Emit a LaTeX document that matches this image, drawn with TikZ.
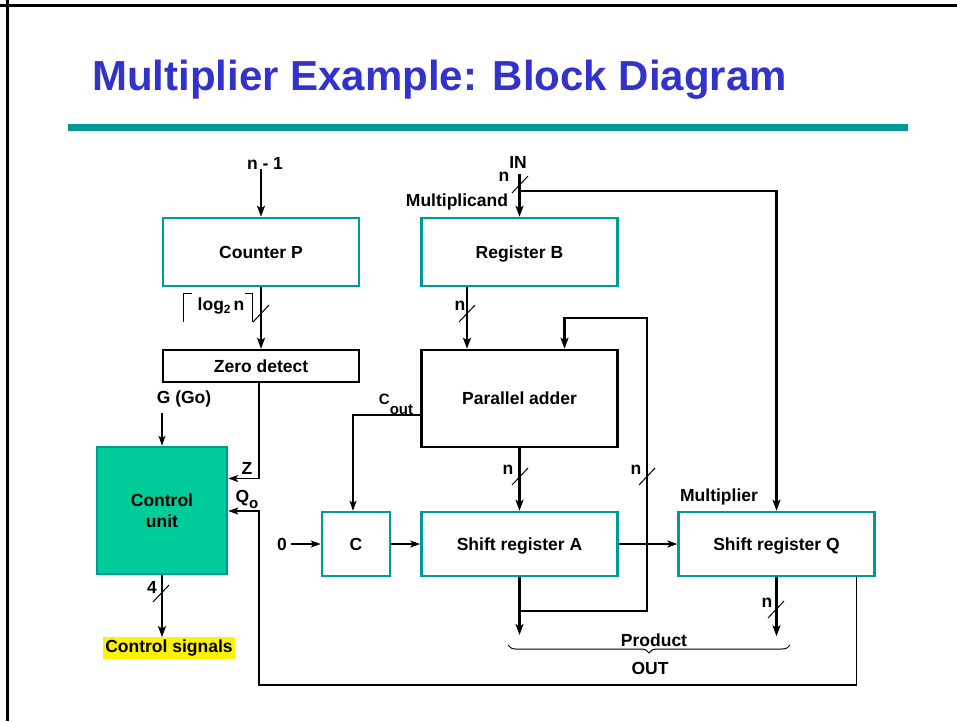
\documentclass[tikz,border=0pt]{standalone}
\usepackage{fontspec}
\setmainfont{Liberation Sans}
\usetikzlibrary{arrows.meta,decorations.pathreplacing,calc}
\definecolor{slideteal}{HTML}{009999}
\definecolor{titleblue}{HTML}{3333CC}
\definecolor{ctrlgreen}{HTML}{00CC99}
\begin{document}
\begin{tikzpicture}[x=1pt,y=-1pt,
  every node/.style={font=\fontsize{17.5}{21}\selectfont\bfseries, inner sep=0pt},
  boxtext/.style={text height=12.5pt, text depth=0pt},
  reg/.style={draw=slideteal, line width=2.5pt, minimum width=196pt, minimum height=64pt, boxtext},
  logic/.style={draw=black, line width=2.5pt, minimum width=196pt, boxtext},
  bus/.style={line width=2.2pt, -{Stealth[length=11pt,width=8pt,inset=2.5pt]}},
  busline/.style={line width=2.2pt},
  wire/.style={line width=1.2pt, -{Stealth[length=10pt,width=7pt,inset=2.5pt]}},
  busmark/.pic={\draw[line width=1pt] (-8,9) -- (8,-8);},
]
\useasboundingbox (0,0) rectangle (957,721);

% slide frame, title and rule
\draw[line width=3.5pt] (0,5.5) -- (957,5.5);
\draw[line width=3pt] (7,0) -- (7,721);
\node[anchor=base west, text=titleblue, font=\fontsize{42}{50}\selectfont\bfseries] (title) at (92,90) {Multiplier Example: Block Diagram};
\fill[slideteal] (68,124) rectangle (908,131);

% blocks
\node[reg, minimum height=68pt] (cp) at (261,252) {Counter P};
\node[logic, minimum height=32pt] (zd) at (261,366) {Zero detect};
\node[reg, minimum height=68pt] (rb) at (519.5,252) {Register B};
\node[logic, minimum height=97pt] (pa) at (519.5,398.5) {Parallel adder};
\node[draw=slideteal, line width=2.5pt, fill=ctrlgreen, minimum width=130pt, minimum height=127pt, align=center] (cu) at (162,510.5) {Control\\unit};
\node[reg, minimum width=68pt] (cc) at (356,544) {C};
\node[reg] (sa) at (519.5,544) {Shift register A};
\node[reg] (sq) at (776.5,544) {Shift register Q};
\node[fill=yellow, inner xsep=2pt, inner ysep=2.5pt] (cs) at (169,648) {Control signals};

% counter path
\node (nm1) at (265,163) {n - 1};
\draw[bus] (cp.north |- nm1.south) -- (cp.north);
\draw[bus] (cp.south) -- (zd.north);
\pic at (261,313) {busmark};
\node (lg) at (221,306) {log\raisebox{-3pt}{\fontsize{12}{12}\selectfont 2}\,n};
\draw[line width=1pt] (183,322) -- (183,293) -- (192,293);
\draw[line width=1pt] (245,293) -- (252,293) -- (252,322);

% control unit inputs
\coordinate (zin) at ($(cu.east)+(0,-32)$);
\draw[wire] ($(zd.south)+(-2,0)$) |- (zin);
\node (zlab) at (247,468) {Z};
\node (go) at (184,399) {G (Go)};
\draw[wire] ($(cu.north)+(0,-33)$) -- (cu.north);
\node (qlab) at (247,499) {Q\raisebox{-6pt}{\fontsize{15}{15}\selectfont o}};
\coordinate (qin) at ($(cu.east)+(0,0.5)$);
\coordinate (qturn) at (259,685);
\draw[wire] ($(sq.south east)+(-19,0)$) |- (qturn) |- (qin);

% control signals
\draw[bus] (cu.south) -- (cu.south |- cs.north);
\pic at (161,593) {busmark};
\node (four) at (152,587) {4};

% multiplicand input
\node (in) at (518,162) {IN};
\coordinate (intop) at (519.5,174);
\coordinate (insplit) at (519.5,191);
\draw[bus] (intop) -- (rb.north);
\draw[bus] (insplit) -| (sq.north);
\pic at (520,184) {busmark};
\node (nin) at (504,177) {n};
\node (mcand) at (457,202) {Multiplicand};

% register B to adder
\draw[bus] ($(rb.south)+(-52.5,0)$) -- ($(pa.north)+(-52.5,0)$);
\pic at (467,313) {busmark};
\node (nb) at (460,306) {n};

% adder to shift register A
\draw[bus] (pa.south) -- (sa.north);
\pic at (520,476) {busmark};
\node (nsum) at (508,470) {n};

% A feedback loop and product output
\coordinate (loopjoin) at (519.5,611);
\coordinate (looptop) at (647,318);
\draw[busline] (sa.south) -- (loopjoin);
\draw[bus] (loopjoin) -| (looptop) -| ($(pa.north)+(45,0)$);
\draw[bus] (loopjoin) -- (519.5,635);
\pic at (647,476) {busmark};
\node (nloop) at (636,470) {n};

% carry out
\coordinate (cout) at ($(pa.west)+(0,16.5)$);
\draw[wire] (cout) -| ($(cc.north)+(-3,0)$);
\node[font=\fontsize{15}{15}\selectfont\bfseries] (coutlab) at (396,404) {C\raisebox{-10pt}{out}};

% serial path
\node (zero) at (282,544) {0};
\draw[wire] ($(zero.east)+(4,0)$) -- (cc.west);
\draw[wire] (cc.east) -- (sa.west);
\draw[wire] (sa.east) -- (sq.west);
\node (mplier) at (719,497) {Multiplier};

% Q output
\draw[bus] (sq.south) -- ++(0,59);
\pic at (776,609) {busmark};
\node (nq) at (767,603) {n};

% product brace
\draw[line width=1pt, decorate, decoration={brace, mirror, amplitude=8pt}] (508,645) -- (790,645);
\node (prod) at (654,640) {Product};
\node (out) at (650,668) {OUT};
\end{tikzpicture}
\end{document}
